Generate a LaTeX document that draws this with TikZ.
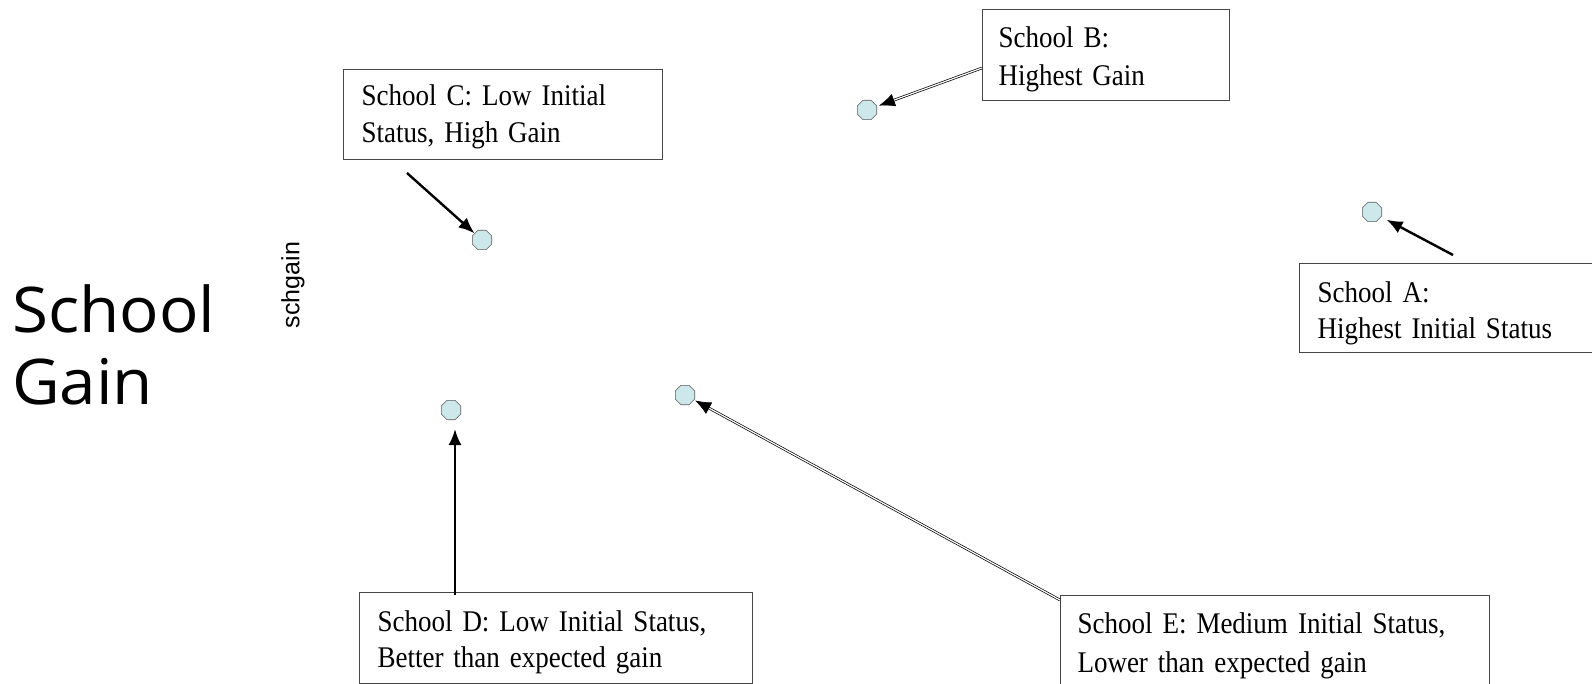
\documentclass[tikz,border=0pt]{standalone}
\usepackage{fontspec}
\setmainfont{Liberation Serif}
\newfontfamily\boxfont[FakeStretch=0.9]{Liberation Serif}
\newfontfamily\bigsans[FakeStretch=1.04]{Open Sans}
\newfontfamily\labsans{Liberation Sans}
\usetikzlibrary{shapes.geometric,arrows.meta}
\definecolor{dotfill}{RGB}{204,232,235}
\definecolor{boxline}{RGB}{70,70,70}
% first-line strut (height) and last-line strut (depth)
\newcommand{\toppad}[1]{\rule{0pt}{#1}}
\newcommand{\botpad}[1]{\rule[-#1]{0pt}{#1}}
\tikzset{
  schooldot/.style={regular polygon, regular polygon sides=8, minimum size=21pt, inner sep=0pt,
    fill=dotfill, draw=black!65, line width=0.6pt},
  notebox/.style={draw=boxline, line width=1pt, anchor=north west, align=left, inner ysep=0pt},
  solidarrow/.style={line width=2.4pt, -{Latex[length=16pt,width=13pt]}},
  hollowarrow/.style={line width=0.7pt, double=white, double distance=1.2pt, -{Latex[length=16pt,width=13pt]}},
}
\begin{document}
\begin{tikzpicture}[x=1pt,y=-1pt]
\useasboundingbox[fill=white] (0,0) rectangle (1592,684);

% title
\node[anchor=base west, inner sep=0pt, font=\bigsans\fontsize{63}{70}\selectfont] (titleA) at (12,333) {School};
\node[anchor=base west, inner sep=0pt, font=\bigsans\fontsize{63}{70}\selectfont] (titleB) at (12,404) {Gain};
\node[rotate=90, inner sep=0pt, font=\labsans\fontsize{25}{30}\selectfont] (axis) at (293,285) {schgain};

% dots
\node[schooldot] (dotA) at (1372,212) {};
\node[schooldot] (dotB) at (867,110) {};
\node[schooldot] (dotC) at (482,240) {};
\node[schooldot] (dotD) at (451,410) {};
\node[schooldot] (dotE) at (685,395) {};

% boxes
\node[notebox, font=\boxfont\fontsize{30}{38}\selectfont, minimum width=247pt,
  inner xsep=16pt, text width=215pt] (boxB) at (982,9)
  {\toppad{38pt}School B:\\Highest Gain\botpad{15pt}};
\node[notebox, font=\boxfont\fontsize{30}{37}\selectfont, minimum width=319pt,
  inner xsep=18pt, text width=283pt] (boxC) at (343,69)
  {\toppad{36pt}School C: Low Initial\\Status, High Gain\botpad{17pt}};
\node[notebox, font=\boxfont\fontsize{30}{36}\selectfont, minimum width=310pt,
  inner xsep=18pt, text width=274pt] (boxA) at (1299,263)
  {\toppad{39pt}School A:\\Highest Initial Status\botpad{14pt}};
\node[notebox, font=\boxfont\fontsize{30}{36}\selectfont, minimum width=393pt,
  inner xsep=18pt, text width=357pt] (boxD) at (359,592)
  {\toppad{39pt}School D: Low Initial Status,\\Better than expected gain\botpad{16pt}};
\node[notebox, font=\boxfont\fontsize{30}{39}\selectfont, minimum width=429pt,
  inner xsep=17pt, text width=395pt] (boxE) at (1060,595)
  {\toppad{38pt}School E: Medium Initial Status,\\Lower than expected gain\botpad{28pt}};

% arrow start points
\coordinate (startA) at (1453,255);
\coordinate (startB) at (982,68);
\coordinate (startC) at (407,173);
\coordinate (startD) at (455,595);
\coordinate (startE) at (1060,600);

% arrows
\draw[solidarrow, shorten >=6pt] (startA) -- (dotA);
\draw[hollowarrow, shorten >=2pt] (startB) -- (dotB);
\draw[solidarrow] (startC) -- (dotC);
\draw[solidarrow, shorten >=9pt] (startD) -- (dotD.south -| startD);
\draw[hollowarrow, shorten >=1pt] (startE) -- (dotE);
\end{tikzpicture}
\end{document}
